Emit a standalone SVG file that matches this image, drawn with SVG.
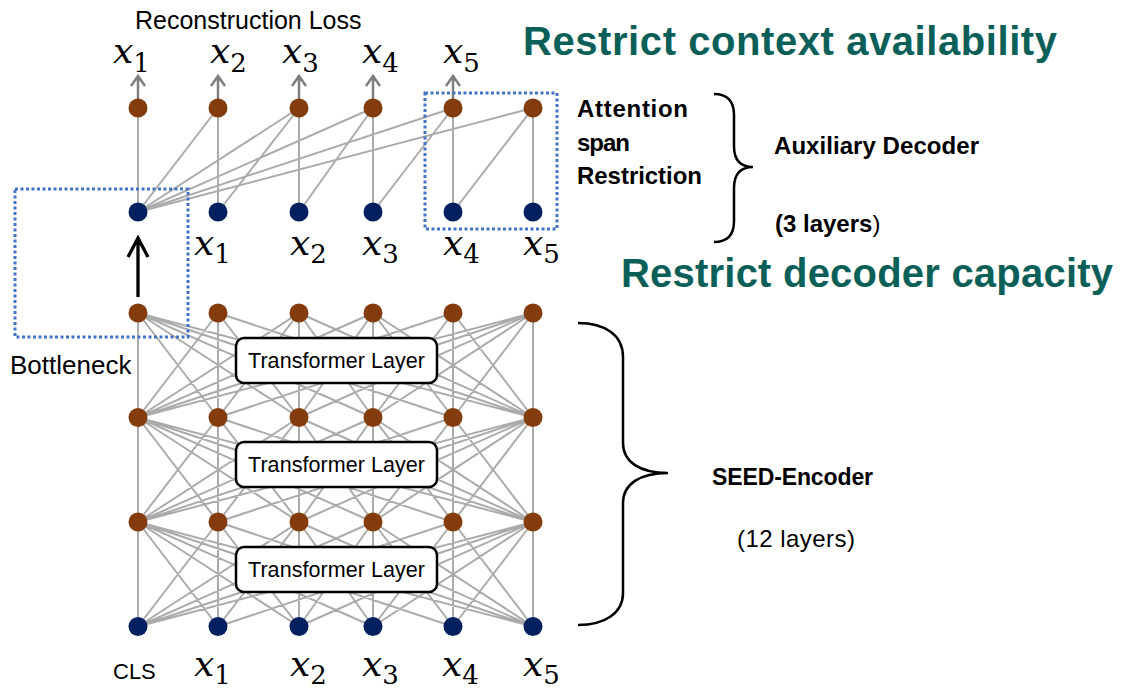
<svg xmlns="http://www.w3.org/2000/svg" xmlns:xlink="http://www.w3.org/1999/xlink" width="1127" height="699" viewBox="0 0 1127 699">
<style>
.conn{stroke:#ababab;stroke-width:2;fill:none;stroke-linecap:round}
.up{stroke:#7f7f7f;stroke-width:2.5;fill:none}
.dot{fill:none;stroke:#4472c4;stroke-width:3;stroke-dasharray:3 2.5}
.brace{fill:none;stroke:#000;stroke-width:2.5}
.h{fill:#843c0c}
.e{fill:#002060}
.t{font-family:"Liberation Sans",Arial,sans-serif;fill:#000}
.b{font-weight:bold}
.big{font-family:"Liberation Sans",Arial,sans-serif;font-weight:bold;font-size:40px;fill:#0b5f59}
.m{font-family:"DejaVu Serif",serif;font-size:36px;fill:#000}
.mi{font-style:italic}
.sub{font-size:26px;font-style:normal}
.tl{fill:#fff;stroke:#000;stroke-width:2.5}
</style>
<defs>
<path id="layer" class="conn" d="M138 0L138 104.5M138 0L218 104.5M138 0L299 104.5M138 0L373 104.5M138 0L453 104.5M138 0L533 104.5M533 0L138 104.5M533 0L218 104.5M533 0L299 104.5M533 0L373 104.5M533 0L453 104.5M533 0L533 104.5M218 0L138 104.5M218 0L218 104.5M218 0L299 104.5M218 0L533 104.5M299 0L138 104.5M299 0L218 104.5M299 0L299 104.5M299 0L373 104.5M299 0L533 104.5M373 0L138 104.5M373 0L299 104.5M373 0L373 104.5M373 0L453 104.5M373 0L533 104.5M453 0L138 104.5M453 0L373 104.5M453 0L453 104.5M453 0L533 104.5"/>
</defs>
<rect width="1127" height="699" fill="#fff"/>

<g id="connectors">
  <path class="conn" d="M138 108L138 212M218 108L218 212M299 108L299 212M373 108L373 212M453 108L453 212M533 108L533 212M138 212L218 108M138 212L299 108M138 212L373 108M138 212L453 108M138 212L533 108M218 212L299 108M299 212L373 108M373 212L453 108M453 212L533 108"/>
  <use xlink:href="#layer" href="#layer" y="313"/>
  <use xlink:href="#layer" href="#layer" y="417.5"/>
  <use xlink:href="#layer" href="#layer" y="522"/>
  <path class="up" d="M138 99V77M131 86L138 76L145 86M218 99V77M211 86L218 76L225 86M299 99V77M292 86L299 76L306 86M373 99V77M366 86L373 76L380 86M453 99V77M446 86L453 76L460 86"/>
  <path fill="none" stroke="#000" stroke-width="3.3" d="M138 297V240M128 257L138 238L148 257"/>
</g>

<g id="bottleneck-box"><rect class="dot" x="15" y="189" width="173" height="148"/></g>
<g id="span-box"><rect class="dot" x="425" y="93" width="132" height="136"/></g>

<g id="tl1"><rect class="tl" x="236" y="338" width="201" height="45" rx="8"/><text class="t" x="336.5" y="368" font-size="21.5" text-anchor="middle" textLength="177">Transformer Layer</text></g>
<g id="tl2"><rect class="tl" x="236" y="442" width="201" height="45" rx="8"/><text class="t" x="336.5" y="472" font-size="21.5" text-anchor="middle" textLength="177">Transformer Layer</text></g>
<g id="tl3"><rect class="tl" x="236" y="547" width="201" height="45" rx="8"/><text class="t" x="336.5" y="577" font-size="21.5" text-anchor="middle" textLength="177">Transformer Layer</text></g>

<g id="dec-top">
  <g id="d-h0"><circle class="h" cx="138" cy="108" r="9.5"/></g>
  <g id="d-h1"><circle class="h" cx="218" cy="108" r="9.5"/></g>
  <g id="d-h2"><circle class="h" cx="299" cy="108" r="9.5"/></g>
  <g id="d-h3"><circle class="h" cx="373" cy="108" r="9.5"/></g>
  <g id="d-h4"><circle class="h" cx="453" cy="108" r="9.5"/></g>
  <g id="d-h5"><circle class="h" cx="533" cy="108" r="9.5"/></g>
</g>
<g id="dec-bottom">
  <g id="d-e0"><circle class="e" cx="138" cy="212" r="9.5"/></g>
  <g id="d-e1"><circle class="e" cx="218" cy="212" r="9.5"/></g>
  <g id="d-e2"><circle class="e" cx="299" cy="212" r="9.5"/></g>
  <g id="d-e3"><circle class="e" cx="373" cy="212" r="9.5"/></g>
  <g id="d-e4"><circle class="e" cx="453" cy="212" r="9.5"/></g>
  <g id="d-e5"><circle class="e" cx="533" cy="212" r="9.5"/></g>
</g>
<g id="enc-row3">
  <g id="n3-0"><circle class="h" cx="138" cy="313" r="9.5"/></g>
  <g id="n3-1"><circle class="h" cx="218" cy="313" r="9.5"/></g>
  <g id="n3-2"><circle class="h" cx="299" cy="313" r="9.5"/></g>
  <g id="n3-3"><circle class="h" cx="373" cy="313" r="9.5"/></g>
  <g id="n3-4"><circle class="h" cx="453" cy="313" r="9.5"/></g>
  <g id="n3-5"><circle class="h" cx="533" cy="313" r="9.5"/></g>
</g>
<g id="enc-row2">
  <g id="n2-0"><circle class="h" cx="138" cy="417.5" r="9.5"/></g>
  <g id="n2-1"><circle class="h" cx="218" cy="417.5" r="9.5"/></g>
  <g id="n2-2"><circle class="h" cx="299" cy="417.5" r="9.5"/></g>
  <g id="n2-3"><circle class="h" cx="373" cy="417.5" r="9.5"/></g>
  <g id="n2-4"><circle class="h" cx="453" cy="417.5" r="9.5"/></g>
  <g id="n2-5"><circle class="h" cx="533" cy="417.5" r="9.5"/></g>
</g>
<g id="enc-row1">
  <g id="n1-0"><circle class="h" cx="138" cy="522" r="9.5"/></g>
  <g id="n1-1"><circle class="h" cx="218" cy="522" r="9.5"/></g>
  <g id="n1-2"><circle class="h" cx="299" cy="522" r="9.5"/></g>
  <g id="n1-3"><circle class="h" cx="373" cy="522" r="9.5"/></g>
  <g id="n1-4"><circle class="h" cx="453" cy="522" r="9.5"/></g>
  <g id="n1-5"><circle class="h" cx="533" cy="522" r="9.5"/></g>
</g>
<g id="enc-input">
  <g id="n0-0"><circle class="e" cx="138" cy="626.5" r="9.5"/></g>
  <g id="n0-1"><circle class="e" cx="218" cy="626.5" r="9.5"/></g>
  <g id="n0-2"><circle class="e" cx="299" cy="626.5" r="9.5"/></g>
  <g id="n0-3"><circle class="e" cx="373" cy="626.5" r="9.5"/></g>
  <g id="n0-4"><circle class="e" cx="453" cy="626.5" r="9.5"/></g>
  <g id="n0-5"><circle class="e" cx="533" cy="626.5" r="9.5"/></g>
</g>

<g id="labels-top">
  <text class="m" x="113" y="63"><tspan class="mi">x</tspan><tspan class="sub" dy="9">1</tspan></text>
  <text class="m" x="210" y="63"><tspan class="mi">x</tspan><tspan class="sub" dy="9">2</tspan></text>
  <text class="m" x="282" y="63"><tspan class="mi">x</tspan><tspan class="sub" dy="9">3</tspan></text>
  <text class="m" x="362" y="63"><tspan class="mi">x</tspan><tspan class="sub" dy="9">4</tspan></text>
  <text class="m" x="443" y="63"><tspan class="mi">x</tspan><tspan class="sub" dy="9">5</tspan></text>
</g>
<g id="labels-dec">
  <text class="m" x="194" y="255"><tspan class="mi">x</tspan><tspan class="sub" dy="8">1</tspan></text>
  <text class="m" x="290" y="255"><tspan class="mi">x</tspan><tspan class="sub" dy="8">2</tspan></text>
  <text class="m" x="362" y="255"><tspan class="mi">x</tspan><tspan class="sub" dy="8">3</tspan></text>
  <text class="m" x="443" y="255"><tspan class="mi">x</tspan><tspan class="sub" dy="8">4</tspan></text>
  <text class="m" x="523" y="255"><tspan class="mi">x</tspan><tspan class="sub" dy="8">5</tspan></text>
</g>
<g id="labels-enc">
  <text class="t" x="113" y="679" font-size="22">CLS</text>
  <text class="m" x="194" y="676"><tspan class="mi">x</tspan><tspan class="sub" dy="8">1</tspan></text>
  <text class="m" x="290" y="676"><tspan class="mi">x</tspan><tspan class="sub" dy="8">2</tspan></text>
  <text class="m" x="362" y="676"><tspan class="mi">x</tspan><tspan class="sub" dy="8">3</tspan></text>
  <text class="m" x="442" y="676"><tspan class="mi">x</tspan><tspan class="sub" dy="8">4</tspan></text>
  <text class="m" x="523" y="676"><tspan class="mi">x</tspan><tspan class="sub" dy="8">5</tspan></text>
</g>

<g id="texts">
  <text class="t" x="135" y="29" font-size="25">Reconstruction Loss</text>
  <text class="t" x="10" y="374" font-size="26">Bottleneck</text>
  <text class="big" x="523" y="55" textLength="534">Restrict context availability</text>
  <text class="big" x="621" y="287" textLength="492">Restrict decoder capacity</text>
  <text class="t b" x="577" y="117" font-size="24" textLength="111">Attention</text>
  <text class="t b" x="577" y="151" font-size="24" textLength="53">span</text>
  <text class="t b" x="577" y="184" font-size="24" textLength="125">Restriction</text>
  <text class="t b" x="774" y="154" font-size="24" textLength="205">Auxiliary Decoder</text>
  <text class="t" x="775" y="232" font-size="24"><tspan font-weight="bold">(3 layers</tspan>)</text>
  <text class="t b" x="712" y="485" font-size="23" textLength="161">SEED-Encoder</text>
  <text class="t" x="737" y="547" font-size="24" textLength="118">(12 layers)</text>
</g>

<g id="braces">
  <path class="brace" d="M714 94C728 94 734 102 734 115V146C734 160 740 167 753 167C740 167 734 174 734 188V221C734 234 728 242 714 242"/>
  <path class="brace" d="M578 323C605 323 623 335 623 357V443C623 462 640 473 668 473C640 473 623 484 623 503V593C623 613 605 625 578 625"/>
</g>
</svg>
